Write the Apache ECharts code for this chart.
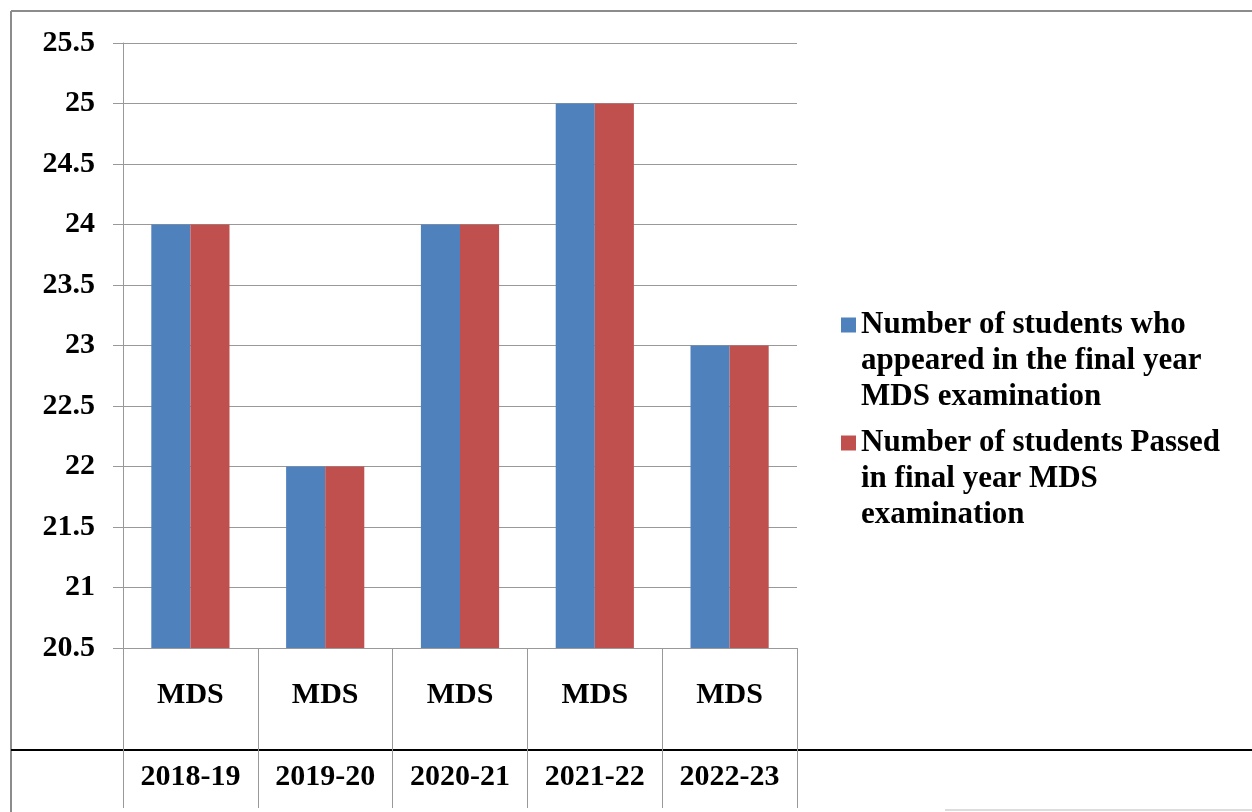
<!DOCTYPE html>
<html>
<head>
<meta charset="utf-8">
<script src="https://cdn.jsdelivr.net/npm/echarts@6/dist/echarts.min.js"></script>
<style>
html,body{margin:0;padding:0;background:#fff;}
#chart{width:1252px;height:812px;}
</style>
</head>
<body>
<div id="chart"></div>
<script>
var programs = ['MDS', 'MDS', 'MDS', 'MDS', 'MDS'];
var years = ['2018-19', '2019-20', '2020-21', '2021-22', '2022-23'];
var appeared = [24, 22, 24, 25, 23];
var passed = [24, 22, 24, 25, 23];
var seriesNames = [
  'Number of students who appeared in the final year MDS examination',
  'Number of students Passed in final year MDS examination'
];
var legendLines = [
  ['Number of students who', 'appeared in the final year', 'MDS examination'],
  ['Number of students Passed', 'in final year MDS', 'examination']
];
var yTicks = { min: 20.5, max: 25.5, interval: 0.5 };

var FONT = 'Liberation Serif';
var chart = echarts.init(document.getElementById('chart'));

function legendFor(i, top) {
  return {
    data: [seriesNames[i]],
    left: 841,
    top: top,
    padding: 0,
    orient: 'vertical',
    icon: 'rect',
    itemWidth: 15,
    itemHeight: 15,
    itemGap: 0,
    selectedMode: false,
    formatter: function () {
      // two empty leading lines so the marker sits beside the first line
      return '{e|}\n{e|}\n' + legendLines[i].map(function (s) { return '{t|' + s + '}'; }).join('\n');
    },
    textStyle: {
      fontFamily: FONT, fontWeight: 'bold', fontSize: 31, color: '#000', lineHeight: 36,
      rich: {
        e: { fontFamily: FONT, fontSize: 31, lineHeight: 36, height: 36 },
        t: { fontFamily: FONT, fontWeight: 'bold', fontSize: 31, color: '#000', lineHeight: 36 }
      }
    }
  };
}

chart.setOption({
  animation: false,
  backgroundColor: '#fff',
  grid: { left: 123, right: 455, top: 43, bottom: 164 },
  legend: [legendFor(0, 235), legendFor(1, 353)],
  xAxis: [
    {
      type: 'category',
      data: programs,
      position: 'bottom',
      axisLine: { show: true, lineStyle: { color: '#999', width: 1 } },
      axisTick: { show: true, interval: 0, length: 160, lineStyle: { color: '#999', width: 1 } },
      axisLabel: { interval: 0, margin: 32, fontFamily: FONT, fontWeight: 'bold', fontSize: 30, color: '#000' }
    },
    {
      type: 'category',
      data: years,
      position: 'bottom',
      offset: 102,
      axisLine: { show: false },
      axisTick: { show: false },
      axisLabel: { interval: 0, margin: 12, fontFamily: FONT, fontWeight: 'bold', fontSize: 30, color: '#000' }
    }
  ],
  yAxis: {
    type: 'value',
    min: yTicks.min,
    max: yTicks.max,
    interval: yTicks.interval,
    axisLine: { show: true, lineStyle: { color: '#999', width: 1 } },
    axisTick: { show: true, length: 10, lineStyle: { color: '#999', width: 1 } },
    splitLine: { show: true, lineStyle: { color: '#999', width: 1 } },
    axisLabel: { margin: 28, padding: [5, 0, 0, 0], fontFamily: FONT, fontWeight: 'bold', fontSize: 30, color: '#000',
      formatter: function (v) { return String(Math.round(v * 10) / 10); } }
  },
  series: [
    { name: seriesNames[0], type: 'bar', data: appeared, barGap: '0%', barCategoryGap: '42%',
      itemStyle: { color: '#4F81BD' } },
    { name: seriesNames[1], type: 'bar', data: passed, barGap: '0%', barCategoryGap: '42%',
      itemStyle: { color: '#C0504D' } }
  ],
  graphic: [
    { type: 'line', shape: { x1: 11, y1: 11, x2: 1252, y2: 11 }, style: { stroke: '#8c8c8c', lineWidth: 2 } },
    { type: 'line', shape: { x1: 11, y1: 11, x2: 11, y2: 812 }, style: { stroke: '#8c8c8c', lineWidth: 2 } },
    { type: 'line', shape: { x1: 11, y1: 750, x2: 1252, y2: 750 }, style: { stroke: '#000', lineWidth: 2 } },
    { type: 'line', shape: { x1: 945, y1: 810, x2: 1252, y2: 810 }, style: { stroke: '#bbb', lineWidth: 1 } }
  ]
});
</script>
</body>
</html>
